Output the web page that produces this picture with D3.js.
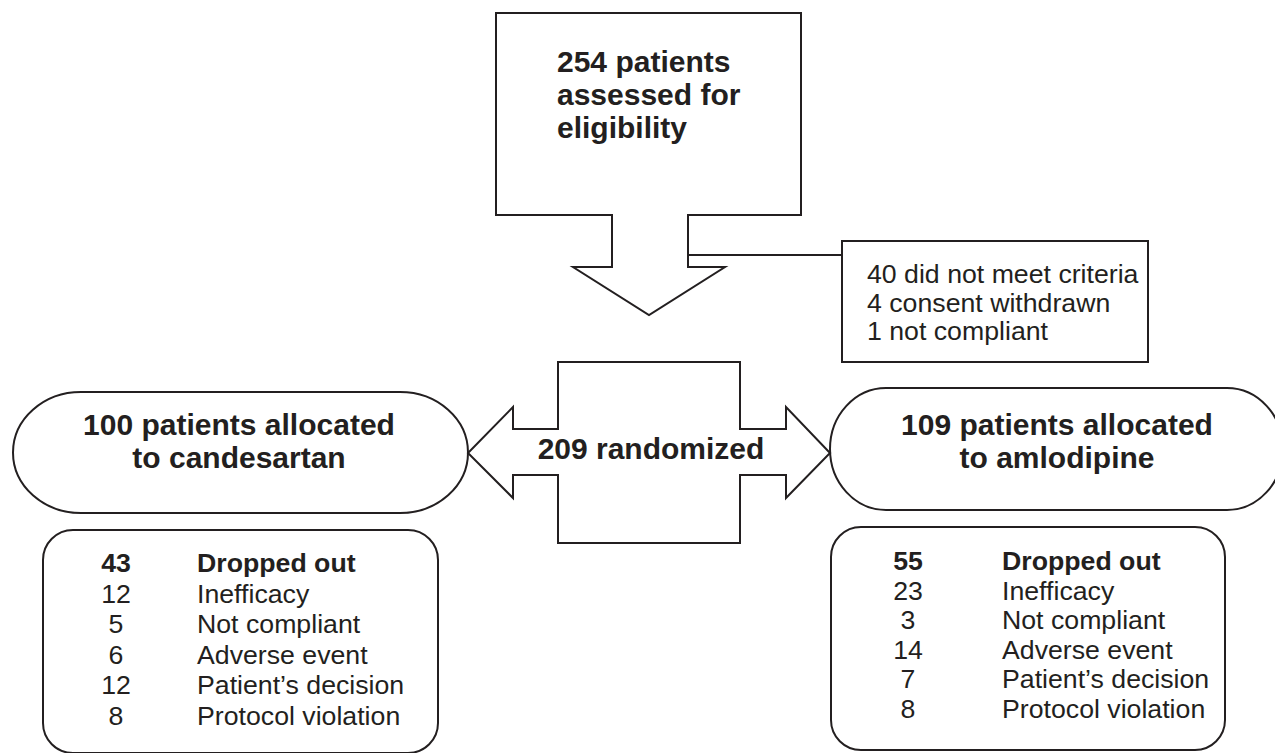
<!DOCTYPE html>
<html>
<head>
<meta charset="utf-8">
<script src="https://cdn.jsdelivr.net/npm/d3@7"></script>
<style>
  html, body { margin: 0; padding: 0; background: #ffffff; }
  svg { display: block; }
  text { font-family: "Liberation Sans", Arial, Helvetica, sans-serif; fill: #231f20; }
</style>
</head>
<body>
<div id="chart"></div>
<script>
// ---------- data ----------
const assessedLines = ["254 patients", "assessed for", "eligibility"];
const excludedLines = ["40 did not meet criteria", "4 consent withdrawn", "1 not compliant"];
const randomizedLabel = "209 randomized";
const armLabels = [
  ["100 patients allocated", "to candesartan"],
  ["109 patients allocated", "to amlodipine"]
];
const dropReasons = ["Dropped out", "Inefficacy", "Not compliant", "Adverse event", "Patient\u2019s decision", "Protocol violation"];
const candesartanCounts = [43, 12, 5, 6, 12, 8];
const amlodipineCounts = [55, 23, 3, 14, 7, 8];

// ---------- setup ----------
const W = 1275, H = 753;
const ink = "#231f20";
const svg = d3.select("#chart").append("svg").attr("width", W).attr("height", H);
const g = svg.append("g");

function shape(d) {
  g.append("path").attr("d", d).attr("fill", "none").attr("stroke", ink)
    .attr("stroke-width", 2).attr("stroke-linejoin", "miter");
}
function stadium(x0, x1, y0, y1, rx) {
  const ry = (y1 - y0) / 2, ym = (y0 + y1) / 2;
  return `M${x0 + rx},${y0} H${x1 - rx} A${rx},${ry} 0 0 1 ${x1},${ym} A${rx},${ry} 0 0 1 ${x1 - rx},${y1}`
       + ` H${x0 + rx} A${rx},${ry} 0 0 1 ${x0},${ym} A${rx},${ry} 0 0 1 ${x0 + rx},${y0} Z`;
}
function roundRect(x0, x1, y0, y1, r) {
  const p = d3.path();
  p.moveTo(x0 + r, y0);
  p.arcTo(x1, y0, x1, y1, r);
  p.arcTo(x1, y1, x0, y1, r);
  p.arcTo(x0, y1, x0, y0, r);
  p.arcTo(x0, y0, x1, y0, r);
  p.closePath();
  return p.toString();
}

// ---------- top callout: assessed ----------
shape("M496,13 H801 V215 H688 V267 H725 L649,315 L573,267 H612 V215 H496 Z");
shape("M688,255 H842");
const yTop = d3.scaleLinear().domain([0, 1]).range([72, 105]);
g.selectAll("text.assessed").data(assessedLines).join("text")
  .attr("class", "assessed")
  .attr("x", 557).attr("y", (d, i) => yTop(i))
  .attr("font-size", 30).attr("font-weight", "bold").text(d => d);

// ---------- exclusion box ----------
g.append("rect").attr("x", 842).attr("y", 241).attr("width", 306).attr("height", 121)
  .attr("fill", "none").attr("stroke", ink).attr("stroke-width", 2);
const yExcl = d3.scaleLinear().domain([0, 1]).range([283, 311.5]);
g.selectAll("text.excl").data(excludedLines).join("text")
  .attr("class", "excl")
  .attr("x", 867).attr("y", (d, i) => yExcl(i))
  .attr("font-size", 26.7).text(d => d);

// ---------- randomized double arrow ----------
shape("M558,362 H740 V429 H786 V407 L830,453 L786,498 V475 H740 V543 H558 V475 H513 V498 L468,453 L513,407 V429 H558 Z");
g.append("text").attr("x", 651).attr("y", 459).attr("text-anchor", "middle")
  .attr("font-size", 30).attr("font-weight", "bold").text(randomizedLabel);

// ---------- arm stadiums ----------
const arms = [
  { x0: 13, x1: 468, y0: 392, y1: 513, rx: 68, cx: 239 },
  { x0: 830, x1: 1283, y0: 388, y1: 510, rx: 56, cx: 1057 }
];
arms.forEach((a, k) => {
  shape(stadium(a.x0, a.x1, a.y0, a.y1, a.rx));
  const yArm = d3.scaleLinear().domain([0, 1]).range([435, 467.5]);
  g.selectAll(`text.arm${k}`).data(armLabels[k]).join("text")
    .attr("class", `arm${k}`)
    .attr("x", a.cx).attr("y", (d, i) => yArm(i)).attr("text-anchor", "middle")
    .attr("font-size", 30).attr("font-weight", "bold").text(d => d);
});

// ---------- dropout boxes ----------
const boxes = [
  { x0: 43, x1: 438, y0: 530, y1: 753, r: 30, numX: 116, labX: 197, counts: candesartanCounts, y0t: 572, y1t: 725 },
  { x0: 831, x1: 1225, y0: 527, y1: 750, r: 30, numX: 908, labX: 1002, counts: amlodipineCounts, y0t: 570, y1t: 718 }
];
boxes.forEach((b, k) => {
  shape(roundRect(b.x0, b.x1, b.y0, b.y1, b.r));
  const yRow = d3.scaleLinear().domain([0, dropReasons.length - 1]).range([b.y0t, b.y1t]);
  const rows = dropReasons.map((r, i) => ({ reason: r, n: b.counts[i], i }));
  g.selectAll(`text.num${k}`).data(rows).join("text")
    .attr("class", `num${k}`)
    .attr("x", b.numX).attr("y", d => yRow(d.i)).attr("text-anchor", "middle")
    .attr("font-size", 26.7).attr("font-weight", d => d.i === 0 ? "bold" : "normal")
    .text(d => d.n);
  g.selectAll(`text.lab${k}`).data(rows).join("text")
    .attr("class", `lab${k}`)
    .attr("x", b.labX).attr("y", d => yRow(d.i))
    .attr("font-size", 26.7).attr("font-weight", d => d.i === 0 ? "bold" : "normal")
    .text(d => d.reason);
});
</script>
</body>
</html>
